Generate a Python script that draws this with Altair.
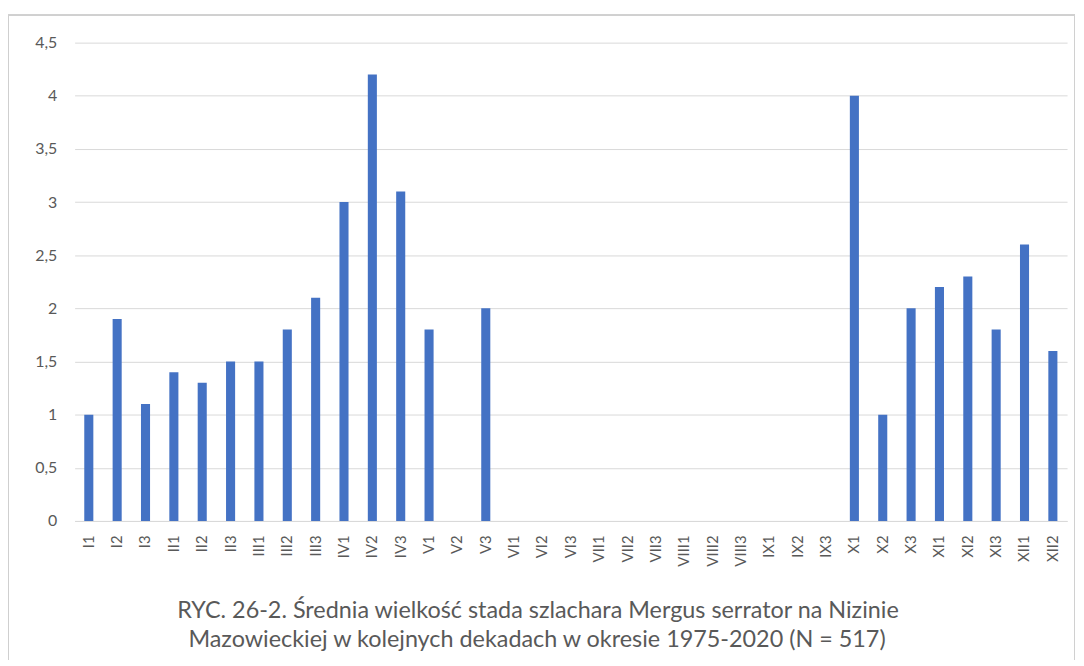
import altair as alt
import pandas as pd

categories = ["I1", "I2", "I3", "II1", "II2", "II3", "III1", "III2", "III3",
              "IV1", "IV2", "IV3", "V1", "V2", "V3", "VI1", "VI2", "VI3",
              "VII1", "VII2", "VII3", "VIII1", "VIII2", "VIII3", "IX1", "IX2", "IX3",
              "X1", "X2", "X3", "XI1", "XI2", "XI3", "XII1", "XII2"]
values = [1.0, 1.9, 1.1, 1.4, 1.3, 1.5, 1.5, 1.8, 2.1,
          3.0, 4.2, 3.1, 1.8, 0, 2.0, 0, 0, 0,
          0, 0, 0, 0, 0, 0, 0, 0, 0,
          4.0, 1.0, 2.0, 2.2, 2.3, 1.8, 2.6, 1.6]
y_ticks = [0, 0.5, 1, 1.5, 2, 2.5, 3, 3.5, 4, 4.5]
title_lines = ["RYC. 26-2. Średnia wielkość stada szlachara Mergus serrator na Nizinie",
               "Mazowieckiej w kolejnych dekadach w okresie 1975-2020 (N = 517)"]

df = pd.DataFrame({"cat": categories, "val": values})
tdf = pd.DataFrame({"line": title_lines})

W, H = 998, 481
FONT = "Lato"
GRAY = "#595959"

bars = alt.Chart(df).mark_bar(color="#4472C4").encode(
    x=alt.X("cat:N", sort=categories,
            scale=alt.Scale(paddingInner=0.68, paddingOuter=0.34),
            axis=alt.Axis(title=None, labelAngle=-90, labelFontSize=15,
                          labelColor=GRAY, labelFont=FONT, ticks=False, grid=False,
                          domainColor="#d9d9d9", labelPadding=14,
                          labelAlign="right", labelBaseline="middle")),
    y=alt.Y("val:Q", scale=alt.Scale(domain=[0, 4.5], nice=False),
            axis=alt.Axis(title=None, values=y_ticks, labelFontSize=16,
                          labelColor=GRAY, labelFont=FONT, ticks=False, grid=True,
                          domain=False, gridColor="#d9d9d9", labelPadding=18,
                          labelExpr="replace(toString(datum.value), '.', ',')")),
)

frame = alt.Chart(df).mark_rect(fill=None, stroke="#d0d0d0", strokeWidth=1,
                                clip=False).encode(
    x=alt.value(-66.5), x2=alt.value(W + 7.5),
    y=alt.value(-27.5), y2=alt.value(H + 200),
)

title1 = alt.Chart(tdf.iloc[[0]]).mark_text(
    font=FONT, fontSize=23.5, color=GRAY, align="center", baseline="middle"
).encode(text="line:N", x=alt.value(466), y=alt.value(572))
title2 = alt.Chart(tdf.iloc[[1]]).mark_text(
    font=FONT, fontSize=23.5, color=GRAY, align="center", baseline="middle"
).encode(text="line:N", x=alt.value(465), y=alt.value(601))

chart = alt.layer(frame, bars, title1, title2).properties(
    width=W, height=H,
    autosize=alt.AutoSizeParams(type="none"),
    padding={"left": 67, "top": 33, "right": 9, "bottom": 138},
).configure_view(stroke=None)

chart.save("out.html", embed_options={"renderer": "svg", "actions": False})
